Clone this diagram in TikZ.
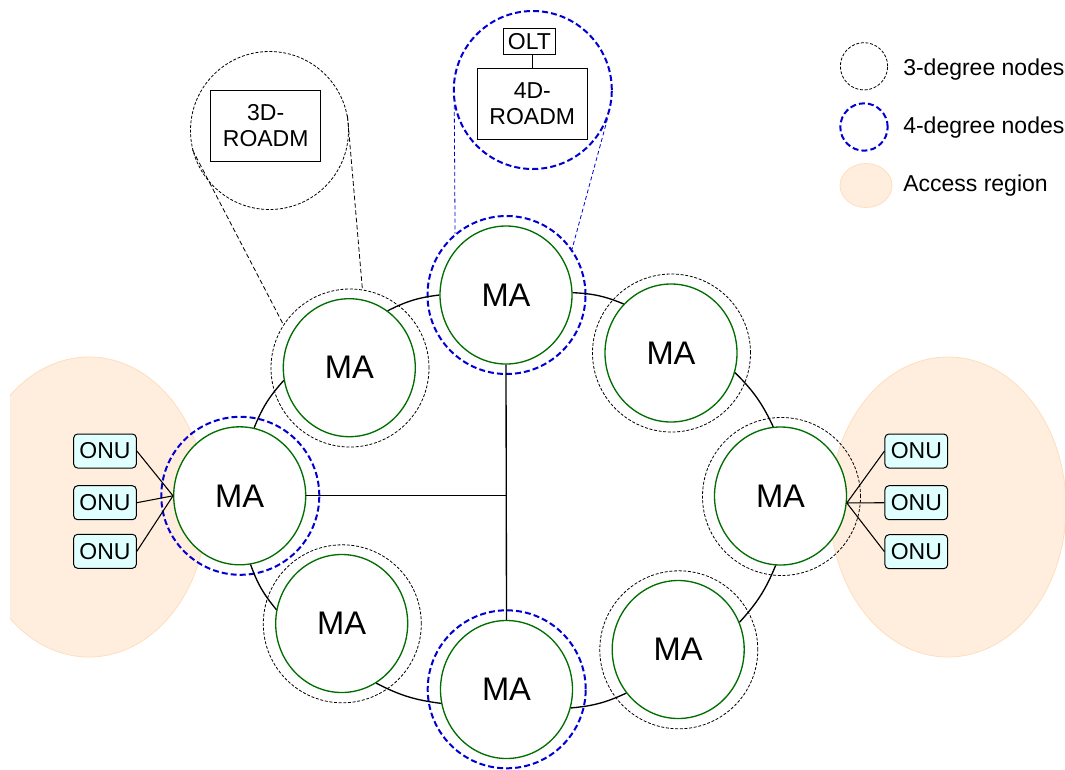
\documentclass[tikz,border=0pt]{standalone}
\usepackage{fontspec}
\setmainfont{Liberation Sans}
\usetikzlibrary{shapes.geometric}
\definecolor{magreen}{RGB}{0,110,0}
\definecolor{fourblue}{RGB}{0,0,210}
\definecolor{accfill}{RGB}{255,238,222}
\definecolor{accline}{RGB}{253,222,190}
\definecolor{onufill}{RGB}{224,255,255}
\begin{document}
\begin{tikzpicture}[x=0.75pt,y=0.75pt,
  ma/.style={ellipse, draw=magreen, line width=1pt, fill=white, minimum width=99pt, minimum height=103.5pt, inner sep=0pt, font=\fontsize{24.5}{28}\selectfont},
  three/.style={circle, draw=black, line width=0.6pt, dash pattern=on 2.2pt off 1.3pt, minimum size=118.5pt, inner sep=0pt},
  four/.style={circle, draw=fourblue, line width=1.5pt, dash pattern=on 4.5pt off 2.3pt, minimum size=118.5pt, inner sep=0pt},
  onu/.style={rectangle, rounded corners=3pt, draw=black, line width=0.75pt, fill=onufill, minimum width=47pt, minimum height=25.5pt, inner sep=0pt, font=\fontsize{17.25}{19.5}\selectfont},
  roadm/.style={rectangle, draw=black, line width=0.75pt, minimum width=82.5pt, minimum height=53pt, align=center, inner sep=0pt, font=\fontsize{17.25}{19.5}\selectfont},
  oltbox/.style={rectangle, draw=black, line width=0.75pt, minimum width=39pt, minimum height=19.5pt, inner sep=0pt, font=\fontsize{17.25}{19.5}\selectfont},
  link/.style={draw=black, line width=1pt},
  onulink/.style={draw=black, line width=0.8pt},
  magline/.style={draw=black, line width=0.6pt, dash pattern=on 3.5pt off 2pt},
  blueline/.style={draw=fourblue, line width=0.6pt, dash pattern=on 3pt off 2pt},
  access/.style={fill=accfill, draw=accline, line width=0.6pt},
  lbl/.style={anchor=base west, font=\fontsize{17.25}{19.5}\selectfont, inner sep=0pt}
]
\useasboundingbox (0,0) rectangle (1065,-769);

% access regions
\begin{scope}
  \clip (10,0) rectangle (1065,-769);
  \path[access] (89,-507) ellipse [x radius=118, y radius=150];
  \path[access] (948,-507) ellipse [x radius=118, y radius=150];
\end{scope}

% outer degree circles
\node[three] (tlo) at (350,-368) {};
\node[four]  (to)  at (506.5,-295) {};
\node[three] (tro) at (671.5,-353) {};
\node[three] (ro)  at (781.5,-496.5) {};
\node[three] (bro) at (678.8,-649.8) {};
\node[four]  (bo)  at (506.7,-689.3) {};
\node[three] (blo) at (342.3,-623.8) {};
\node[four]  (lo)  at (240.3,-495.8) {};

% MA nodes
\node[ma] (tl) at (349.3,-367.7) {MA};
\node[ma] (t)  at (506,-295) {MA};
\node[ma] (tr) at (671,-353) {MA};
\node[ma] (r)  at (780.5,-496) {MA};
\node[ma] (br) at (678.2,-649.5) {MA};
\node[ma] (b)  at (506.5,-689.5) {MA};
\node[ma] (bl) at (341.7,-623.5) {MA};
\node[ma] (l)  at (239.7,-495.8) {MA};

% ring links
\draw[link] (tl.56.6) to[bend left=10] (t.180);
\draw[link] (t.2.6) to[bend left=10] (tr.134.4);
\draw[link] (tr.-17.8) to[bend left=10] (r.96.7);
\draw[link] (r.266.2) to[bend left=10] (br.24.5);
\draw[link] (br.220.9) to[bend left=10] (b.-16);
\draw[link] (b.192.9) to[bend left=10] (bl.-60.9);
\draw[link] (bl.168) to[bend left=10] (l.-81.3);
\draw[link] (l.78.7) to[bend left=10] (tl.191.3);

% central links
\draw[link] (t.south) -- (b.north);
\draw[link] (l.east) -- (l.east -| t.south);

% magnifiers
\node[three] (mag3) at (269.5,-130.5) {};
\node[roadm] (box3) at (265.7,-125.7) {3D-\\ROADM};
\node[four] (mag4) at (532.8,-90) {};
\node[roadm] (box4) at (532.3,-103.8) {4D-\\ROADM};
\node[oltbox] (olt) at (529.5,-41.5) {OLT};
\draw[line width=0.75pt] (box4.north) -- (box4.north |- olt.south);

\draw[magline] (mag3.194) -- (tlo.147.8);
\draw[magline] (mag3.11.1) -- (tlo.81.6);
\draw[blueline] (mag4.191.9) -- (to.130.4);
\draw[blueline] (mag4.-21.7) -- (to.35.5);

% ONUs
\node[onu] (ol1) at (105,-451) {ONU};
\node[onu] (ol2) at (105,-502.7) {ONU};
\node[onu] (ol3) at (105,-551.3) {ONU};
\node[onu] (or1) at (916.3,-451) {ONU};
\node[onu] (or2) at (916.3,-502.7) {ONU};
\node[onu] (or3) at (916.3,-551.7) {ONU};
\draw[onulink] (ol1.east) -- (l.west);
\draw[onulink] (ol2.east) -- (l.west);
\draw[onulink] (ol3.east) -- (l.west);
\draw[onulink] (r.-6) -- (or1.west);
\draw[onulink] (r.-6) -- (or2.west);
\draw[onulink] (r.-6) -- (or3.west);

% legend
\node[three, minimum size=35.5pt] (leg3) at (864,-66.3) {};
\node[four, minimum size=35.5pt] (leg4) at (864,-127) {};
\path[access] (866,-185.5) ellipse [x radius=26, y radius=22];
\node[lbl] (lt3) at (903,-75) {3-degree nodes};
\node[lbl] (lt4) at (903,-133.3) {4-degree nodes};
\node[lbl] (lta) at (903,-191.7) {Access region};
\end{tikzpicture}
\end{document}
